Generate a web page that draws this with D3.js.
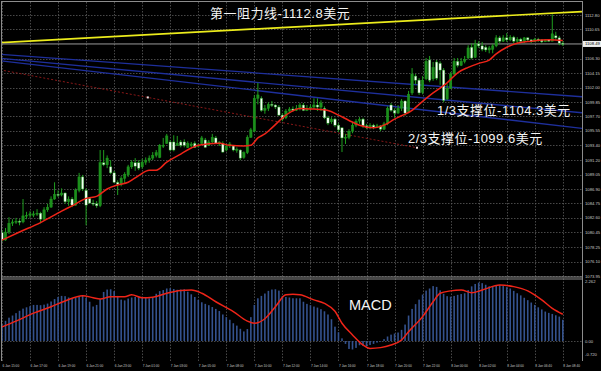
<!DOCTYPE html>
<html>
<head>
<meta charset="utf-8">
<script src="https://cdn.jsdelivr.net/npm/d3@7"></script>
<style>
html, body { margin: 0; padding: 0; background: #000; }
svg { display: block; }
</style>
</head>
<body>
<svg id="chart" width="601" height="371"></svg>
<script>
// gold M15 bars
const opens = [
    1080.4, 1079.3, 1080.5, 1081.8, 1082.0, 1082.1, 1082.0, 1082.9, 1083.0, 1083.0,
    1083.2, 1083.3, 1082.4, 1083.8, 1084.2, 1085.4, 1086.1, 1086.0, 1086.3, 1085.0,
    1085.4, 1084.5, 1086.7, 1088.7, 1086.7, 1085.5, 1084.8, 1084.7, 1084.4, 1090.8,
    1090.5, 1090.2, 1089.3, 1087.9, 1087.6, 1088.5, 1089.0, 1090.2, 1090.8, 1090.8,
    1090.2, 1090.9, 1091.2, 1091.5, 1091.9, 1091.6, 1093.3, 1093.7, 1093.9, 1093.9,
    1093.4, 1093.9, 1093.9, 1093.1, 1093.4, 1093.7, 1093.3, 1093.7, 1094.2, 1093.4,
    1093.9, 1094.5, 1093.6, 1093.7, 1092.7, 1093.3, 1093.3, 1092.7, 1092.7, 1091.6,
    1092.3, 1094.6, 1095.5, 1100.4, 1100.4, 1098.6, 1098.9, 1099.5, 1099.4, 1099.1,
    1097.9, 1097.5, 1098.5, 1098.8, 1098.6, 1098.9, 1099.4, 1098.6, 1098.9, 1099.1,
    1099.4, 1099.1, 1098.9, 1097.5, 1096.9, 1097.3, 1096.4, 1096.0, 1094.5, 1094.6,
    1095.5, 1096.4, 1097.0, 1097.3, 1096.3, 1096.1, 1096.4, 1096.1, 1096.3, 1095.8,
    1096.6, 1099.4, 1098.6, 1098.2, 1098.9, 1100.0, 1098.4, 1101.2, 1103.7, 1103.1,
    1101.3, 1103.3, 1106.1, 1103.3, 1105.8, 1105.6, 1104.6, 1100.3, 1101.9, 1104.0,
    1105.9, 1105.3, 1105.9, 1106.4, 1108.0, 1106.5, 1108.5, 1108.2, 1108.0, 1107.6,
    1107.7, 1108.2, 1109.4, 1108.9, 1109.4, 1109.1, 1109.5, 1108.9, 1109.2, 1108.9,
    1109.4, 1109.1, 1108.8, 1109.2, 1109.1, 1108.8, 1109.1, 1108.9, 1109.7, 1109.4,
    1108.6
];
const highs = [
    1080.8, 1081.1, 1082.7, 1082.4, 1082.6, 1082.4, 1085.4, 1083.5, 1083.6, 1083.6,
    1083.9, 1083.5, 1084.2, 1084.7, 1085.8, 1087.9, 1086.7, 1087.0, 1086.4, 1085.8,
    1085.7, 1087.0, 1089.3, 1089.0, 1087.0, 1085.7, 1085.3, 1085.1, 1092.7, 1092.7,
    1091.9, 1091.2, 1089.6, 1088.2, 1088.8, 1089.4, 1090.5, 1091.2, 1091.5, 1091.2,
    1091.4, 1091.6, 1091.9, 1092.4, 1092.7, 1093.6, 1094.5, 1095.1, 1094.2, 1094.9,
    1094.8, 1094.2, 1094.3, 1094.0, 1093.9, 1094.0, 1093.7, 1094.8, 1094.5, 1094.2,
    1095.1, 1094.8, 1094.0, 1094.0, 1093.6, 1093.9, 1093.4, 1093.1, 1092.8, 1092.5,
    1094.9, 1096.0, 1100.9, 1102.7, 1100.7, 1099.4, 1099.8, 1100.0, 1099.5, 1099.4,
    1098.2, 1098.8, 1099.1, 1099.2, 1099.4, 1099.7, 1099.7, 1099.4, 1099.5, 1100.4,
    1100.4, 1100.1, 1099.2, 1097.8, 1097.6, 1097.5, 1096.7, 1096.1, 1095.1, 1095.8,
    1096.9, 1097.3, 1097.6, 1097.5, 1096.6, 1096.7, 1096.6, 1096.6, 1096.4, 1096.9,
    1099.2, 1099.7, 1098.9, 1099.4, 1100.3, 1100.1, 1101.5, 1104.9, 1104.0, 1103.4,
    1103.7, 1106.4, 1106.7, 1105.8, 1106.1, 1105.9, 1104.9, 1102.5, 1104.3, 1106.4,
    1106.4, 1106.4, 1106.7, 1108.3, 1108.6, 1109.1, 1108.9, 1108.8, 1108.3, 1108.2,
    1108.5, 1109.8, 1109.7, 1109.8, 1110.1, 1109.8, 1109.7, 1109.5, 1109.4, 1109.5,
    1109.5, 1109.2, 1109.4, 1109.4, 1109.2, 1109.2, 1109.2, 1112.9, 1110.3, 1109.7,
    1108.9
];
const lows = [
    1079.0, 1079.2, 1080.2, 1081.4, 1081.7, 1081.5, 1081.8, 1082.4, 1082.6, 1082.7,
    1082.9, 1081.8, 1082.3, 1083.5, 1084.1, 1085.3, 1085.7, 1085.8, 1084.7, 1084.4,
    1084.2, 1084.4, 1086.4, 1086.6, 1081.5, 1084.7, 1084.4, 1084.1, 1084.2, 1090.3,
    1090.0, 1089.1, 1087.8, 1086.0, 1087.3, 1087.8, 1088.7, 1089.9, 1089.6, 1089.7,
    1089.9, 1090.5, 1090.8, 1091.2, 1091.6, 1091.5, 1093.0, 1093.6, 1092.5, 1092.5,
    1093.3, 1093.1, 1093.1, 1093.0, 1093.1, 1093.0, 1093.1, 1093.6, 1093.0, 1093.3,
    1093.7, 1093.6, 1093.3, 1092.3, 1092.5, 1093.0, 1092.5, 1092.3, 1091.2, 1091.4,
    1092.1, 1094.5, 1095.4, 1099.5, 1098.4, 1098.1, 1098.5, 1099.1, 1098.8, 1097.8,
    1097.0, 1097.3, 1098.2, 1098.4, 1098.5, 1098.6, 1098.5, 1098.5, 1098.6, 1098.8,
    1098.5, 1098.5, 1097.3, 1096.4, 1096.6, 1096.1, 1095.4, 1092.4, 1093.6, 1094.3,
    1095.2, 1096.1, 1096.6, 1096.0, 1095.8, 1095.8, 1095.8, 1096.0, 1095.5, 1095.7,
    1096.4, 1098.4, 1097.5, 1098.1, 1098.5, 1097.8, 1098.2, 1100.9, 1102.5, 1100.9,
    1101.0, 1103.1, 1102.8, 1103.0, 1103.1, 1102.4, 1099.8, 1100.1, 1101.8, 1103.9,
    1105.0, 1105.2, 1105.6, 1106.2, 1106.2, 1106.4, 1107.9, 1107.4, 1107.3, 1107.1,
    1107.1, 1108.0, 1108.6, 1108.8, 1108.8, 1108.9, 1108.6, 1108.6, 1108.8, 1108.6,
    1108.8, 1108.6, 1108.8, 1108.8, 1108.6, 1108.8, 1108.8, 1108.9, 1109.1, 1108.3,
    1108.2
];
const closes = [
    1079.3, 1080.5, 1081.8, 1082.0, 1082.1, 1082.0, 1082.9, 1083.0, 1083.2, 1083.2,
    1083.3, 1082.4, 1083.8, 1084.2, 1085.4, 1086.1, 1086.0, 1086.3, 1085.0, 1085.4,
    1084.5, 1086.7, 1088.7, 1086.9, 1084.5, 1084.8, 1084.7, 1084.4, 1090.8, 1090.5,
    1091.5, 1089.3, 1087.9, 1087.6, 1088.5, 1089.1, 1090.2, 1090.9, 1090.3, 1090.0,
    1090.9, 1091.2, 1091.5, 1091.9, 1092.3, 1093.4, 1093.4, 1094.8, 1092.7, 1092.7,
    1093.7, 1093.4, 1093.4, 1093.7, 1093.6, 1093.1, 1093.4, 1094.5, 1093.1, 1093.9,
    1094.6, 1093.7, 1093.9, 1092.4, 1093.3, 1093.6, 1092.7, 1092.8, 1091.5, 1092.3,
    1094.6, 1095.7, 1100.4, 1100.9, 1098.6, 1098.9, 1099.5, 1099.4, 1099.1, 1097.9,
    1097.3, 1098.5, 1098.8, 1098.6, 1098.9, 1099.4, 1098.6, 1098.9, 1099.1, 1099.4,
    1099.1, 1099.7, 1097.5, 1096.7, 1097.3, 1096.4, 1095.7, 1094.5, 1094.6, 1095.5,
    1096.4, 1097.0, 1097.3, 1096.3, 1096.1, 1096.4, 1096.1, 1096.3, 1095.8, 1096.6,
    1098.9, 1098.6, 1098.2, 1098.9, 1100.0, 1098.2, 1101.0, 1104.0, 1103.1, 1101.2,
    1103.1, 1105.9, 1103.1, 1105.0, 1103.4, 1104.6, 1100.1, 1101.9, 1104.0, 1105.9,
    1105.3, 1105.9, 1106.2, 1107.9, 1106.4, 1108.5, 1108.2, 1107.7, 1107.6, 1107.9,
    1108.2, 1109.4, 1108.9, 1109.4, 1109.1, 1109.5, 1108.9, 1109.2, 1108.9, 1109.4,
    1109.1, 1108.8, 1109.2, 1109.1, 1108.8, 1109.1, 1108.9, 1110.0, 1109.4, 1108.6,
    1108.5
];

// moving average (red), read at these bar numbers
const maIndex = [0, 5, 11, 17, 20, 24, 27, 30, 33, 36, 39, 42, 44, 47, 51, 54, 56, 62, 65, 69,
    71, 73, 75, 77, 81, 85, 89, 93, 96, 99, 102, 106, 109, 112, 114, 117, 119, 123, 127, 130,
    133, 136, 139, 141, 144, 147, 151, 156, 160];
const maValues = [1079.3, 1080.5, 1081.9, 1083.6, 1084.4, 1085.5, 1085.8, 1086.9, 1087.5, 1087.9,
    1088.9, 1089.7, 1089.7, 1090.9, 1092.1, 1093.0, 1093.4, 1093.7, 1093.4, 1093.3,
    1093.4, 1094.5, 1095.1, 1096.0, 1097.9, 1098.9, 1098.8, 1098.6, 1097.9, 1097.1,
    1096.4, 1096.0, 1096.4, 1097.3, 1097.8, 1098.6, 1099.5, 1101.2, 1102.7, 1104.2,
    1105.0, 1105.6, 1106.1, 1107.0, 1108.0, 1108.6, 1108.9, 1109.1, 1109.0];

// MACD histogram, one per bar
const macdHist = [
    0.62, 0.76, 0.88, 0.96, 1.05, 1.14, 1.22, 1.27, 1.31, 1.36,
    1.36, 1.35, 1.37, 1.41, 1.49, 1.58, 1.66, 1.70, 1.69, 1.64,
    1.61, 1.63, 1.67, 1.73, 1.63, 1.48, 1.30, 1.36, 1.58, 1.85,
    1.94, 1.95, 1.88, 1.70, 1.56, 1.53, 1.60, 1.64, 1.66, 1.67,
    1.65, 1.63, 1.61, 1.66, 1.78, 1.88, 1.92, 1.98, 1.99, 1.96,
    1.93, 1.94, 1.95, 1.86, 1.76, 1.66, 1.55, 1.46, 1.40, 1.35,
    1.28, 1.21, 1.13, 1.00, 0.90, 0.80, 0.67, 0.58, 0.46, 0.36,
    0.45, 0.90, 1.36, 1.61, 1.70, 1.79, 1.89, 1.94, 1.95, 1.90,
    1.70, 1.66, 1.64, 1.61, 1.61, 1.61, 1.48, 1.40, 1.35, 1.30,
    1.26, 1.20, 1.12, 1.00, 0.82, 0.54, 0.33, 0.10, -0.11, -0.30,
    -0.32, -0.26, -0.16, -0.19, -0.20, -0.15, -0.11, -0.06, -0.02, 0.07,
    0.17, 0.24, 0.28, 0.32, 0.42, 0.62, 0.96, 1.21, 1.39, 1.56,
    1.75, 1.90, 1.98, 2.07, 2.04, 1.91, 1.78, 1.69, 1.67, 1.70,
    1.74, 1.77, 1.80, 1.92, 2.06, 2.15, 2.20, 2.18, 2.12, 2.06,
    2.06, 2.09, 2.11, 2.07, 2.03, 1.98, 1.89, 1.80, 1.72, 1.63,
    1.54, 1.45, 1.36, 1.27, 1.19, 1.11, 1.06, 1.02, 0.97, 0.92,
    0.80
];

// MACD signal line (red)
const signalIndex = [0, 4, 9, 14, 18, 23, 26, 28, 31, 35, 37, 40, 43, 47, 51, 54, 57, 61, 66, 70,
    72, 75, 78, 81, 83, 85, 89, 92, 95, 97, 100, 103, 105, 108, 111, 114, 116, 120, 123, 125,
    128, 131, 134, 137, 142, 146, 150, 154, 157, 160];
const signalValues = [0.53, 0.75, 1.05, 1.29, 1.51, 1.71, 1.63, 1.58, 1.67, 1.67,
    1.74, 1.63, 1.65, 1.80, 1.90, 1.92, 1.80, 1.48, 1.11, 0.75,
    0.67, 0.84, 1.29, 1.74, 1.76, 1.74, 1.55, 1.42, 1.12, 0.67,
    0.23, -0.15, -0.28, -0.25, -0.15, 0.04, 0.35, 0.92, 1.48, 1.80,
    1.89, 1.92, 1.82, 1.92, 2.11, 2.05, 1.89, 1.55, 1.23, 1.01];

// drawn objects: [bar, price] anchors
const resistanceLine = [[0, 1108.71], [160, 1113.16]];
const channelLines = [
    [[0, 1106.93], [160, 1100.84]],
    [[0, 1106.32], [160, 1098.52]],
    [[0, 1105.96], [160, 1096.26]]
];
const dottedLine = [[41.6, 1100.53], [118.4, 1093.04]];
const bidPrice = 1108.49;

const priceTicks = [1112.80, 1110.65, 1106.30, 1104.15, 1102.00, 1099.85, 1097.70, 1095.55,
    1093.40, 1091.20, 1089.05, 1086.90, 1084.75, 1082.60, 1080.45, 1078.25, 1076.10, 1073.95];
const macdTicks = [2.262, 0.00, -0.720];
const timeLabels = ["6 Jan 15:00", "6 Jan 17:00", "6 Jan 19:00", "6 Jan 21:00", "6 Jan 23:00",
    "7 Jan 01:00", "7 Jan 03:00", "7 Jan 05:00", "7 Jan 08:00", "7 Jan 10:00", "7 Jan 12:00",
    "7 Jan 14:00", "7 Jan 16:00", "7 Jan 18:00", "7 Jan 20:00", "7 Jan 22:00", "8 Jan 00:00",
    "8 Jan 02:00", "8 Jan 04:00", "8 Jan 06:40", "8 Jan 08:40"];
const barsPerLabel = 8;

// layout
const plotRight = 582;
const mainTop = 2, mainBottom = 276.5;
const macdTop = 278.5, macdBottom = 361;

const svg = d3.select('#chart');
svg.append('rect').attr('width', 601).attr('height', 371).attr('fill', '#000');

const x = d3.scaleLinear().domain([0, macdHist.length - 1]).range([2, 562.8]);
const y = d3.scaleLinear().domain([1073.95, 1112.80]).range([276, 15]);
const yMacd = d3.scaleLinear().domain([-0.72, 2.262]).range([360.1, 281]);

const defs = svg.append('defs');
defs.append('clipPath').attr('id', 'clip-main')
    .append('rect').attr('x', 1).attr('y', mainTop).attr('width', plotRight - 1).attr('height', mainBottom - mainTop);
defs.append('clipPath').attr('id', 'clip-macd')
    .append('rect').attr('x', 1).attr('y', macdTop).attr('width', plotRight - 1).attr('height', macdBottom - macdTop);

const gridColor = '#5a5a5a';
const textColor = '#c8c8c8';

// grid
const grid = svg.append('g').attr('stroke', gridColor).attr('stroke-dasharray', '1.5,1.5').attr('stroke-width', 0.8);
grid.selectAll('.hgrid').data(priceTicks).enter().append('line')
    .attr('x1', 1).attr('x2', plotRight)
    .attr('y1', d => Math.round(y(d)) + 0.5).attr('y2', d => Math.round(y(d)) + 0.5);
const labelBars = timeLabels.map((t, i) => i * barsPerLabel);
grid.selectAll('.vgrid').data(labelBars).enter().append('line')
    .attr('x1', d => Math.round(x(d)) + 0.5).attr('x2', d => Math.round(x(d)) + 0.5)
    .attr('y1', mainTop).attr('y2', mainBottom);
grid.selectAll('.vgrid2').data(labelBars).enter().append('line')
    .attr('x1', d => Math.round(x(d)) + 0.5).attr('x2', d => Math.round(x(d)) + 0.5)
    .attr('y1', macdTop).attr('y2', macdBottom);
grid.append('line')
    .attr('x1', 1).attr('x2', plotRight)
    .attr('y1', Math.round(yMacd(0)) + 0.5).attr('y2', Math.round(yMacd(0)) + 0.5);

// main panel
const main = svg.append('g').attr('clip-path', 'url(#clip-main)');

// straight line through two anchors, stretched over the panel
function extend(anchors, fromBar, toBar) {
    const [[i0, p0], [i1, p1]] = anchors;
    const slope = (p1 - p0) / (i1 - i0);
    return [[fromBar, p0 + slope * (fromBar - i0)], [toBar, p0 + slope * (toBar - i0)]];
}
const leftBar = x.invert(0), rightBar = x.invert(plotRight);
const segment = d3.line().x(d => x(d[0])).y(d => y(d[1]));

main.selectAll('.channel').data(channelLines).enter().append('path')
    .attr('d', d => segment(extend(d, leftBar, rightBar)))
    .attr('fill', 'none').attr('stroke', '#1e2f9c').attr('stroke-width', 1.3);

main.append('path')
    .attr('d', segment(extend(dottedLine, leftBar, dottedLine[1][0])))
    .attr('fill', 'none').attr('stroke', '#8a1818').attr('stroke-width', 1)
    .attr('stroke-dasharray', '2,2');
main.selectAll('.anchor').data(dottedLine).enter().append('rect')
    .attr('x', d => x(d[0]) - 1).attr('y', d => y(d[1]) - 1)
    .attr('width', 2).attr('height', 2).attr('fill', '#f0e0e0');

main.append('path')
    .attr('d', segment(extend(resistanceLine, leftBar, rightBar)))
    .attr('fill', 'none').attr('stroke', '#ecec1c').attr('stroke-width', 1.7);

// bid line
main.append('line')
    .attr('x1', 1).attr('x2', plotRight)
    .attr('y1', y(bidPrice)).attr('y2', y(bidPrice))
    .attr('stroke', '#9a9a9a').attr('stroke-width', 1);

// candles
const bars = d3.range(closes.length).map(i => ({
    i, o: opens[i], h: Math.max(highs[i], opens[i], closes[i]),
    l: Math.min(lows[i], opens[i], closes[i]), c: closes[i]
}));
const candle = main.selectAll('.candle').data(bars).enter().append('g');
candle.append('line')
    .attr('x1', d => x(d.i)).attr('x2', d => x(d.i))
    .attr('y1', d => y(d.h)).attr('y2', d => y(d.l))
    .attr('stroke', '#1f9e1f').attr('stroke-width', 1);
candle.append('rect')
    .attr('x', d => x(d.i) - 1.2).attr('width', 2.4)
    .attr('y', d => y(Math.max(d.o, d.c)))
    .attr('height', d => Math.max(1, Math.abs(y(d.o) - y(d.c))))
    .attr('fill', d => d.c >= d.o ? '#1c8f1c' : '#f2fff2')
    .attr('stroke', '#1f9e1f').attr('stroke-width', 0.4);

// moving average
main.append('path')
    .datum(maIndex.map((b, k) => [b, maValues[k]]))
    .attr('d', d3.line().x(d => x(d[0])).y(d => y(d[1])).curve(d3.curveMonotoneX))
    .attr('fill', 'none').attr('stroke', '#ee2418').attr('stroke-width', 1.5);

// MACD panel
const macd = svg.append('g').attr('clip-path', 'url(#clip-macd)');
macd.selectAll('.hist').data(macdHist).enter().append('rect')
    .attr('x', (d, i) => x(i) - 0.8).attr('width', 1.6)
    .attr('y', d => yMacd(Math.max(0, d)))
    .attr('height', d => Math.abs(yMacd(d) - yMacd(0)))
    .attr('fill', '#34528e');
macd.append('path')
    .datum(signalIndex.map((b, k) => [b, signalValues[k]]))
    .attr('d', d3.line().x(d => x(d[0])).y(d => yMacd(d[1])).curve(d3.curveMonotoneX))
    .attr('fill', 'none').attr('stroke', '#ee2418').attr('stroke-width', 1.5);

// frame
const frame = svg.append('g').attr('stroke', '#8c8c8c').attr('stroke-width', 1).attr('fill', 'none');
frame.append('line').attr('x1', 1).attr('x2', plotRight + 0.5).attr('y1', 1.5).attr('y2', 1.5);
frame.append('line').attr('x1', 1.5).attr('x2', 1.5).attr('y1', 1).attr('y2', macdBottom);
frame.append('line').attr('x1', plotRight + 0.5).attr('x2', plotRight + 0.5).attr('y1', 1).attr('y2', macdBottom);
frame.append('line').attr('x1', 1).attr('x2', plotRight + 0.5).attr('y1', mainBottom + 0.5).attr('y2', mainBottom + 0.5);
frame.append('line').attr('x1', 1).attr('x2', plotRight + 0.5).attr('y1', macdTop + 0.5).attr('y2', macdTop + 0.5);

// price axis
const axisFont = '"Liberation Sans", Arial, sans-serif';
svg.selectAll('.ptick').data(priceTicks).enter().append('text')
    .attr('x', 585).attr('y', d => y(d) + 1.5)
    .attr('font-family', axisFont).attr('font-size', 4.2).attr('fill', textColor)
    .text(d => d.toFixed(2));
svg.append('rect')
    .attr('x', 583).attr('y', y(bidPrice) - 3).attr('width', 18).attr('height', 6)
    .attr('fill', '#eeeeee');
svg.append('text')
    .attr('x', 585).attr('y', y(bidPrice) + 1.5)
    .attr('font-family', axisFont).attr('font-size', 4.2).attr('fill', '#000')
    .text(bidPrice.toFixed(2));

// MACD axis, end labels kept inside the panel
svg.selectAll('.mtick').data(macdTicks).enter().append('text')
    .attr('x', 585)
    .attr('y', d => Math.min(Math.max(yMacd(d), macdTop + 2.5), macdBottom - 7) + 1.5)
    .attr('font-family', axisFont).attr('font-size', 4.2).attr('fill', textColor)
    .text(d => d === 0 ? '0.00' : d.toFixed(3));

// time axis
svg.selectAll('.ttick').data(timeLabels).enter().append('text')
    .attr('x', (d, k) => x(k * barsPerLabel) + 0.5).attr('y', 366.5)
    .attr('font-family', axisFont).attr('font-size', 3.2).attr('fill', textColor)
    .text(d => d);

// annotations
const noteFont = '"Liberation Sans", "Noto Sans CJK SC", sans-serif';
const notes = [
    { text: '第一阻力线-1112.8美元', x: 210, y: 17.5, size: 13, spacing: 0.5 },
    { text: '1/3支撑位-1104.3美元', x: 437, y: 115, size: 13, spacing: 0.5 },
    { text: '2/3支撑位-1099.6美元', x: 408, y: 143, size: 13, spacing: 0.5 },
    { text: 'MACD', x: 349, y: 310, size: 14.5, spacing: 0 }
];
svg.selectAll('.note').data(notes).enter().append('text')
    .attr('x', d => d.x).attr('y', d => d.y)
    .attr('font-family', noteFont).attr('font-size', d => d.size)
    .attr('letter-spacing', d => d.spacing)
    .attr('fill', '#f4f4f4')
    .text(d => d.text);
</script>
</body>
</html>
